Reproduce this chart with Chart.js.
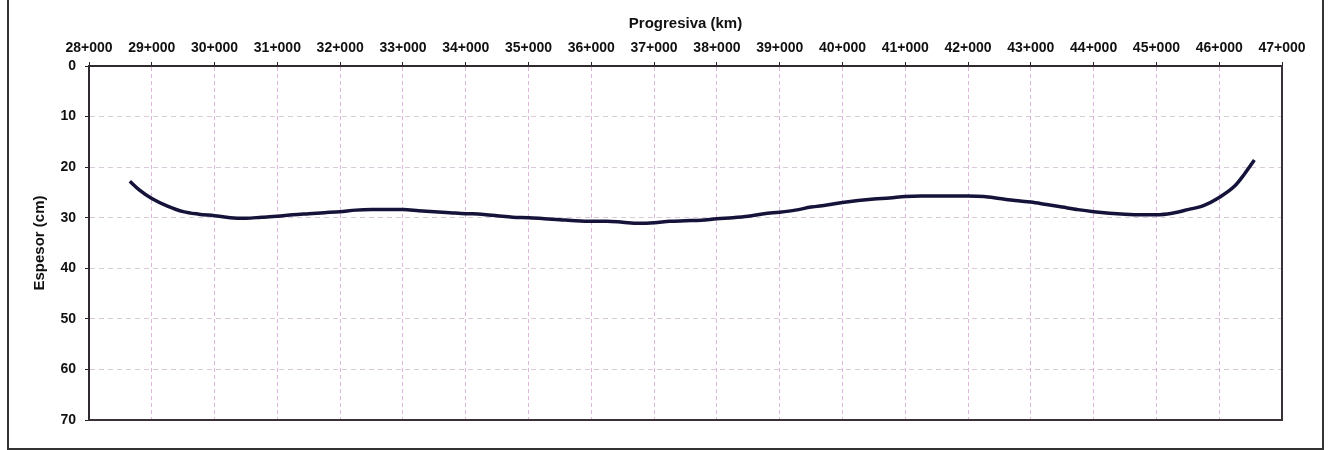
<!DOCTYPE html>
<html>
<head>
<meta charset="utf-8">
<script src="https://cdn.jsdelivr.net/npm/chart.js@4/dist/chart.umd.min.js"></script>
<style>
  html, body { margin: 0; padding: 0; background: #ffffff; }
  #wrap { width: 1338px; height: 450px; position: relative; }
</style>
</head>
<body>
<div id="wrap"><canvas id="c" width="1338" height="450"></canvas></div>
<script>
// Progresiva (km) along the road
const progresiva = [28.65, 28.8, 29.0, 29.25, 29.5, 29.75, 30.0, 30.25, 30.5, 30.75,
  31.0, 31.25, 31.5, 31.75, 32.0, 32.25, 32.5, 32.75, 33.0, 33.25, 33.5, 33.75,
  34.0, 34.25, 34.5, 34.75, 35.0, 35.25, 35.5, 35.75, 36.0, 36.25, 36.5, 36.75,
  37.0, 37.25, 37.5, 37.75, 38.0, 38.25, 38.5, 38.75, 39.0, 39.25, 39.5, 39.75,
  40.0, 40.25, 40.5, 40.75, 41.0, 41.25, 41.5, 41.75, 42.0, 42.25, 42.5, 42.75,
  43.0, 43.25, 43.5, 43.75, 44.0, 44.25, 44.5, 44.75, 45.0, 45.25, 45.5, 45.75,
  46.0, 46.25, 46.4, 46.56];

// Espesor (cm) at each progresiva
const espesor = [22.8, 24.5, 26.2, 27.7, 28.8, 29.3, 29.6, 30.0, 30.1, 29.9,
  29.7, 29.4, 29.2, 29.0, 28.8, 28.5, 28.4, 28.4, 28.4, 28.6, 28.8, 29.0,
  29.2, 29.3, 29.6, 29.9, 30.0, 30.2, 30.4, 30.6, 30.7, 30.7, 30.9, 31.1,
  31.0, 30.7, 30.6, 30.5, 30.2, 30.0, 29.7, 29.2, 28.9, 28.5, 27.9, 27.5,
  27.0, 26.6, 26.3, 26.1, 25.8, 25.7, 25.7, 25.7, 25.7, 25.8, 26.2, 26.6,
  26.9, 27.4, 27.9, 28.4, 28.8, 29.1, 29.3, 29.4, 29.4, 29.1, 28.4, 27.6,
  26.0, 23.7, 21.4, 18.6];

// Axis ranges and labels
const kmTicks = [28, 29, 30, 31, 32, 33, 34, 35, 36, 37, 38, 39, 40, 41, 42, 43, 44, 45, 46, 47];
const cmTicks = [0, 10, 20, 30, 40, 50, 60, 70];
const xTitle = 'Progresiva (km)';
const yTitle = 'Espesor (cm)';

const points = progresiva.map((km, i) => ({ x: km, y: espesor[i] }));

// Plot box (right and bottom edges) plus the outer frame of the figure
const framePlugin = {
  id: 'frame',
  afterDraw(chart) {
    const { ctx, chartArea: a } = chart;
    ctx.save();
    ctx.strokeStyle = '#3a3038';
    ctx.lineWidth = 2;
    ctx.beginPath();
    ctx.moveTo(a.right, a.top);
    ctx.lineTo(a.right, a.bottom);
    ctx.lineTo(a.left, a.bottom);
    ctx.stroke();
    ctx.strokeStyle = '#333333';
    ctx.beginPath();
    ctx.moveTo(8, 0);
    ctx.lineTo(8, 449);
    ctx.lineTo(1323, 449);
    ctx.lineTo(1323, 0);
    ctx.stroke();
    ctx.restore();
  }
};

const fontFamily = 'Liberation Sans, Arial, sans-serif';

new Chart(document.getElementById('c'), {
  type: 'line',
  data: {
    datasets: [{
      data: points,
      borderColor: '#15133a',
      borderWidth: 3.5,
      pointRadius: 0,
      tension: 0.4,
      cubicInterpolationMode: 'monotone',
      fill: false
    }]
  },
  options: {
    responsive: false,
    animation: false,
    layout: { padding: { left: 0, top: 0, right: 56, bottom: 30 } },
    plugins: { legend: { display: false }, tooltip: { enabled: false } },
    scales: {
      x: {
        type: 'linear',
        position: 'top',
        min: kmTicks[0],
        max: kmTicks[kmTicks.length - 1],
        afterBuildTicks: s => { s.ticks = kmTicks.map(v => ({ value: v })); },
        afterFit: s => { s.height = 66; },
        ticks: {
          callback: v => v + '+000',
          color: '#111',
          font: { family: fontFamily, size: 14, weight: 'bold' },
          padding: 5,
          maxRotation: 0,
          autoSkip: false
        },
        grid: {
          color: 'rgba(200,135,200,0.6)',
          lineWidth: 1,
          tickLength: 4,
          tickColor: '#222'
        },
        border: { display: true, color: '#2e2a30', width: 2, dash: [4, 3] },
        title: {
          display: true,
          text: xTitle,
          color: '#111',
          font: { family: fontFamily, size: 15, weight: 'bold' },
          padding: { top: 15, bottom: 0 }
        }
      },
      y: {
        type: 'linear',
        reverse: true,
        min: cmTicks[0],
        max: cmTicks[cmTicks.length - 1],
        afterBuildTicks: s => { s.ticks = cmTicks.map(v => ({ value: v })); },
        afterFit: s => { s.width = 89; },
        ticks: {
          color: '#111',
          font: { family: fontFamily, size: 14, weight: 'bold' },
          padding: 9
        },
        grid: {
          color: 'rgba(185,160,185,0.55)',
          lineWidth: 1,
          tickLength: 4,
          tickColor: '#222'
        },
        border: { display: true, color: '#2e2a30', width: 2, dash: [5, 4] },
        title: {
          display: true,
          text: yTitle,
          color: '#111',
          font: { family: fontFamily, size: 15, weight: 'bold' },
          padding: { top: 31, bottom: 0 }
        }
      }
    }
  },
  plugins: [framePlugin]
});
</script>
</body>
</html>
